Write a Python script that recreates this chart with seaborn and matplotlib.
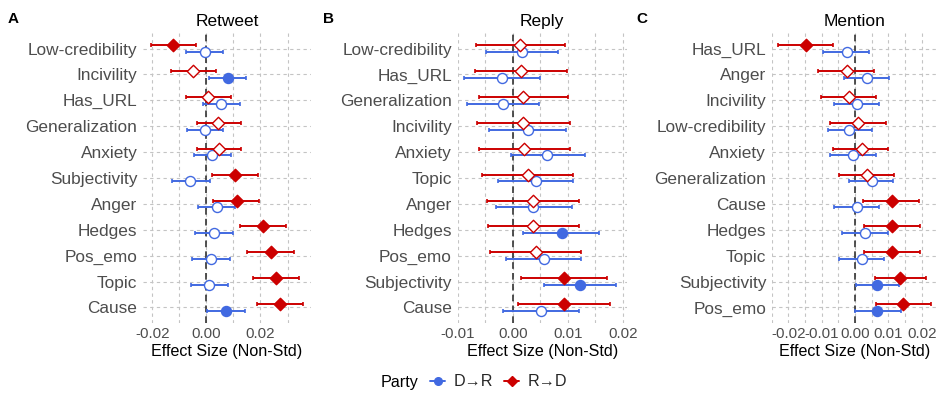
import numpy as np
import pandas as pd
import matplotlib
matplotlib.use("Agg")
import matplotlib.pyplot as plt
from matplotlib.lines import Line2D
from matplotlib.ticker import FixedLocator, FormatStrFormatter
import seaborn as sns

sns.set_theme(style="white")
plt.rcParams['font.family'] = ['Liberation Sans', 'DejaVu Sans']
plt.rcParams['axes.unicode_minus'] = False

# ---------------- data ----------------
titles = ["Retweet", "Reply", "Mention"]
letters = ["A", "B", "C"]

cats_A = ["Low-credibility", "Incivility", "Has_URL", "Generalization", "Anxiety",
          "Subjectivity", "Anger", "Hedges", "Pos_emo", "Topic", "Cause"]
red_est_A = [-0.0125, -0.0049, 0.0007, 0.0044, 0.0046, 0.0106, 0.0112, 0.0210, 0.0238, 0.0257, 0.0272]
red_lo_A = [-0.0206, -0.0131, -0.0077, -0.0036, -0.0034, 0.0019, 0.0025, 0.0124, 0.0151, 0.0173, 0.0186]
red_hi_A = [-0.0039, 0.0035, 0.0091, 0.0128, 0.0128, 0.0190, 0.0196, 0.0294, 0.0324, 0.0344, 0.0356]
red_sig_A = [1, 0, 0, 0, 0, 1, 1, 1, 1, 1, 1]
blue_est_A = [-0.0006, 0.0078, 0.0054, -0.0006, 0.0022, -0.0061, 0.0038, 0.0028, 0.0016, 0.0010, 0.0072]
blue_lo_A = [-0.0076, 0.0010, -0.0014, -0.0071, -0.0045, -0.0129, -0.0030, -0.0043, -0.0055, -0.0057, 0.0003]
blue_hi_A = [0.0060, 0.0145, 0.0124, 0.0060, 0.0090, 0.0013, 0.0107, 0.0097, 0.0087, 0.0080, 0.0143]
blue_sig_A = [0, 1, 0, 0, 0, 0, 0, 0, 0, 0, 1]

cats_B = ["Low-credibility", "Has_URL", "Generalization", "Incivility", "Anxiety",
          "Topic", "Anger", "Hedges", "Pos_emo", "Subjectivity", "Cause"]
red_est_B = [0.0013, 0.0015, 0.0019, 0.0019, 0.0021, 0.0027, 0.0037, 0.0037, 0.0042, 0.0093, 0.0093]
red_lo_B = [-0.0067, -0.0069, -0.0061, -0.0065, -0.0061, -0.0055, -0.0047, -0.0045, -0.0041, 0.0015, 0.0009]
red_hi_B = [0.0095, 0.0098, 0.0100, 0.0104, 0.0104, 0.0110, 0.0121, 0.0121, 0.0124, 0.0171, 0.0177]
red_sig_B = [0, 0, 0, 0, 0, 0, 0, 0, 0, 1, 1]
blue_est_B = [0.0016, -0.0019, -0.0017, 0.0027, 0.0063, 0.0042, 0.0037, 0.0089, 0.0056, 0.0122, 0.0051]
blue_lo_B = [-0.0049, -0.0088, -0.0083, -0.0043, -0.0004, -0.0027, -0.0031, 0.0019, -0.0013, 0.0056, -0.0017]
blue_hi_B = [0.0082, 0.0050, 0.0048, 0.0097, 0.0131, 0.0110, 0.0107, 0.0157, 0.0124, 0.0188, 0.0121]
blue_sig_B = [0, 0, 0, 0, 0, 0, 0, 1, 0, 1, 0]

cats_C = ["Has_URL", "Anger", "Incivility", "Low-credibility", "Anxiety",
          "Generalization", "Cause", "Hedges", "Topic", "Subjectivity", "Pos_emo"]
red_est_C = [-0.0147, -0.0025, -0.0018, 0.0008, 0.0020, 0.0035, 0.0110, 0.0110, 0.0112, 0.0135, 0.0145]
red_lo_C = [-0.0230, -0.0110, -0.0102, -0.0075, -0.0065, -0.0047, 0.0025, 0.0028, 0.0028, 0.0060, 0.0062]
red_hi_C = [-0.0065, 0.0058, 0.0063, 0.0092, 0.0100, 0.0117, 0.0193, 0.0195, 0.0195, 0.0212, 0.0227]
red_sig_C = [1, 0, 0, 0, 0, 0, 1, 1, 1, 1, 1]
blue_est_C = [-0.0025, 0.0035, 0.0005, -0.0017, -0.0007, 0.0050, 0.0005, 0.0030, 0.0020, 0.0067, 0.0067]
blue_lo_C = [-0.0095, -0.0033, -0.0062, -0.0080, -0.0075, -0.0018, -0.0063, -0.0040, -0.0048, 0.0003, 0.0000]
blue_hi_C = [0.0042, 0.0103, 0.0073, 0.0052, 0.0062, 0.0115, 0.0073, 0.0098, 0.0088, 0.0133, 0.0137]
blue_sig_C = [0, 0, 0, 0, 0, 0, 0, 0, 0, 1, 1]

party_labels = ["D\u2192R", "R\u2192D"]

# ---------------- build long table ----------------
panels = [
    (cats_A, blue_est_A, blue_lo_A, blue_hi_A, blue_sig_A, red_est_A, red_lo_A, red_hi_A, red_sig_A),
    (cats_B, blue_est_B, blue_lo_B, blue_hi_B, blue_sig_B, red_est_B, red_lo_B, red_hi_B, red_sig_B),
    (cats_C, blue_est_C, blue_lo_C, blue_hi_C, blue_sig_C, red_est_C, red_lo_C, red_hi_C, red_sig_C),
]
rows = []
for p, (cats, be, bl, bh, bs, re_, rl, rh, rs) in enumerate(panels):
    for i, c in enumerate(cats):
        rows.append(dict(panel=p, cat=c, idx=i, party=party_labels[0], est=be[i], lo=bl[i], hi=bh[i], sig=bs[i]))
        rows.append(dict(panel=p, cat=c, idx=i, party=party_labels[1], est=re_[i], lo=rl[i], hi=rh[i], sig=rs[i]))
df = pd.DataFrame(rows)

# ---------------- style ----------------
colors = {party_labels[0]: "#4169E1", party_labels[1]: "#CC0000"}
markers = {party_labels[0]: "o", party_labels[1]: "D"}
sizes = {party_labels[0]: 52, party_labels[1]: 40}
offsets = {party_labels[0]: 0.13, party_labels[1]: -0.13}
zorders = {party_labels[0]: 3, party_labels[1]: 4}

fig = plt.figure(figsize=(9.42, 3.94), dpi=100)
W, H = 942, 394
ax_px = [(143, 311), (457.5, 627), (771.7, 938)]
top_px, bot_px = 33, 323
xlims = [(-0.0235, 0.0387), (-0.01004, 0.02078), (-0.025, 0.0249)]
majors = [[-0.02, 0.0, 0.02], [-0.01, 0.0, 0.01, 0.02], [-0.02, -0.01, 0.0, 0.01, 0.02]]
minors = [[-0.01, 0.01, 0.03], [-0.005, 0.005, 0.015], [-0.025, -0.015, -0.005, 0.005, 0.015, 0.025]]

grid_kw = dict(color="#C4C4C4", linestyle=(0, (3, 3)), linewidth=0.8)

FS_Y = 12.4
FS_X = 10.9
FS_LAB = 11.6
FS_TITLE = 12.5

for p in range(3):
    l, r = ax_px[p]
    ax = fig.add_axes([l / W, 1 - bot_px / H, (r - l) / W, (bot_px - top_px) / H])
    sub = df[df.panel == p].copy()
    cats = panels[p][0]
    sub["y"] = sub["idx"] + sub["party"].map(offsets)

    ax.set_xlim(*xlims[p])
    ax.set_ylim(len(cats) - 0.4, -0.6)
    ax.xaxis.set_major_locator(FixedLocator(majors[p]))
    ax.xaxis.set_minor_locator(FixedLocator(minors[p]))
    ax.xaxis.set_major_formatter(FormatStrFormatter("%.2f"))
    ax.set_yticks(range(len(cats)))
    ax.set_yticklabels(cats)
    ax.grid(True, which="both", axis="x", **grid_kw)
    ax.grid(True, which="major", axis="y", **grid_kw)
    ax.set_axisbelow(True)
    for s in ax.spines.values():
        s.set_visible(False)
    ax.tick_params(axis="both", which="both", length=0)
    ax.tick_params(axis="y", labelsize=FS_Y, labelcolor="#4D4D4D", pad=4)
    ax.tick_params(axis="x", labelsize=FS_X, labelcolor="#4D4D4D", pad=3)
    ax.axvline(0, color="#333333", linestyle=(0, (4, 2.5)), linewidth=1.2, zorder=2)

    for party in party_labels:
        d = sub[sub.party == party]
        col = colors[party]
        ax.errorbar(d["est"], d["y"], xerr=[d["est"] - d["lo"], d["hi"] - d["est"]],
                    fmt="none", ecolor=col, elinewidth=1.4, capsize=1.3, capthick=1.2,
                    zorder=zorders[party])
        ds = d[d.sig == 1]
        dn = d[d.sig == 0]
        if len(ds):
            sns.scatterplot(data=ds, x="est", y="y", marker=markers[party], s=sizes[party],
                            color=col, edgecolor=col, linewidth=1.0, ax=ax,
                            zorder=zorders[party] + 0.5, legend=False)
        if len(dn):
            sns.scatterplot(data=dn, x="est", y="y", marker=markers[party], s=sizes[party],
                            color="white", edgecolor=col, linewidth=1.0, ax=ax,
                            zorder=zorders[party] + 0.5, legend=False)
    ax.set_ylabel("")
    ax.set_xlabel("Effect Size (Non-Std)", fontsize=FS_LAB, color="black", labelpad=2)
    ax.set_title(titles[p], fontsize=FS_TITLE, color="black", pad=5)

letter_x = [8, 323, 636]
for p in range(3):
    fig.text(letter_x[p] / W, 1 - 19 / H, letters[p], fontsize=11, fontweight="bold",
             ha="left", va="center", color="black")

# legend
handles = [Line2D([0], [0], color=colors[pl], marker=markers[pl], markersize=5.5,
                  markerfacecolor=colors[pl], markeredgecolor=colors[pl], linewidth=1.4)
           for pl in party_labels]
fig.text(381 / W, 1 - 382 / H, "Party", fontsize=FS_LAB, ha="left", va="center", color="black")
fig.legend(handles, party_labels, loc="center left", bbox_to_anchor=(430 / W, 1 - 382 / H),
           ncol=2, frameon=False, fontsize=FS_LAB, handlelength=0.95, handletextpad=0.5,
           columnspacing=0.7, borderpad=0.0, borderaxespad=0.0)

fig.savefig("out.png", dpi=100)
